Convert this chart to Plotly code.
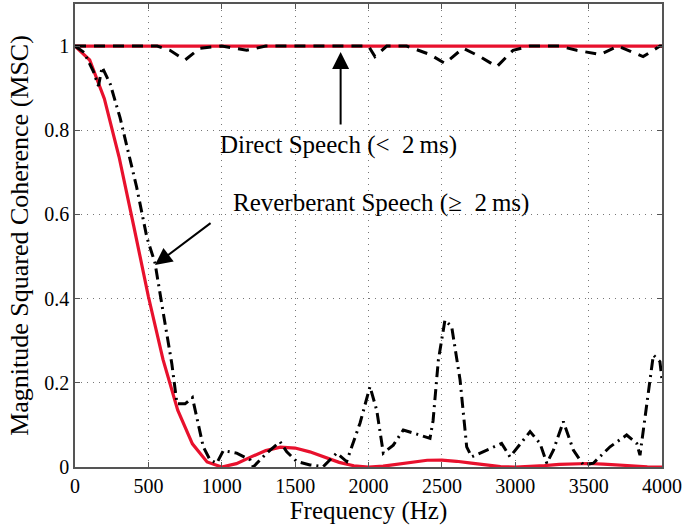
import plotly.graph_objects as go

# Theoretical curves (red)
freq_theory = [0, 100, 200, 300, 400, 500, 600, 700, 800, 900, 1000,
               1100, 1200, 1300, 1400, 1500, 1600, 1700, 1800, 1900, 2000,
               2100, 2200, 2300, 2400, 2500, 2600, 2700, 2800, 2900, 3000,
               3100, 3200, 3300, 3400, 3500, 3600, 3700, 3800, 3900, 4000]
msc_rev_theory = [1.0, 0.967, 0.875, 0.737, 0.573, 0.405, 0.255, 0.135, 0.055, 0.012, 0.0,
                  0.008, 0.024, 0.039, 0.047, 0.045, 0.036, 0.023, 0.011, 0.003, 0.0,
                  0.002, 0.007, 0.0125, 0.016, 0.0162, 0.0136, 0.009, 0.0045, 0.001, 0.0,
                  0.001, 0.0034, 0.006, 0.008, 0.0083, 0.007, 0.0048, 0.0024, 0.0006, 0.0]
msc_dir_theory = [1.0] * len(freq_theory)

# Measured direct speech (black dashed)
freq_dir = [0, 560, 647, 750, 850, 1000, 1170, 1300, 1500, 1800, 2000, 2044, 2124, 2260,
            2419, 2521, 2644, 2760, 2874, 2985, 3100, 3300, 3419, 3578, 3700, 3871, 3986, 4000]
msc_dir = [1.0, 1.0, 0.99, 0.967, 0.995, 1.0, 0.99, 1.0, 1.0, 1.0, 1.0, 0.975, 1.0, 1.0,
           0.98, 0.959, 0.995, 0.975, 0.951, 0.99, 1.0, 1.0, 0.99, 0.98, 1.0, 0.975, 1.0, 1.0]

# Measured reverberant speech (black dash-dot)
freq_rev = [0, 62, 125, 160, 185, 240, 307, 420, 490, 545, 602, 660, 695, 750, 800, 874,
            920, 966, 1011, 1102, 1193, 1215, 1306, 1397, 1443, 1511, 1601, 1692, 1783,
            1851, 1942, 2010, 2056, 2101, 2169, 2237, 2330, 2419, 2440, 2476, 2521, 2567,
            2624, 2669, 2703, 2782, 2907, 2964, 3021, 3101, 3169, 3215, 3260, 3328, 3396,
            3464, 3532, 3646, 3759, 3828, 3850, 3918, 3941, 3986, 4000]
msc_rev = [1.0, 0.985, 0.94, 0.905, 0.95, 0.91, 0.83, 0.665, 0.545, 0.485, 0.365, 0.245,
           0.15, 0.15, 0.165, 0.048, 0.017, 0.009, 0.039, 0.033, 0.017, 0.0, 0.033, 0.06,
           0.036, 0.013, 0.005, 0.001, 0.033, 0.013, 0.104, 0.191, 0.135, 0.033, 0.052,
           0.088, 0.078, 0.068, 0.11, 0.254, 0.349, 0.333, 0.207, 0.048, 0.024, 0.036,
           0.056, 0.024, 0.048, 0.084, 0.056, 0.009, 0.04, 0.108, 0.04, 0.005, 0.009,
           0.048, 0.076, 0.056, 0.028, 0.199, 0.266, 0.25, 0.207]

x_ticks = [0, 500, 1000, 1500, 2000, 2500, 3000, 3500, 4000]
y_ticks = [0, 0.2, 0.4, 0.6, 0.8, 1]
y_tick_labels = ["0", "0.2", "0.4", "0.6", "0.8", "1"]

FONT = "Liberation Serif"
RED = "#e8112d"

fig = go.Figure()
fig.add_trace(go.Scatter(x=freq_theory, y=msc_rev_theory, mode="lines",
                         line=dict(color=RED, width=3.2), showlegend=False))
fig.add_trace(go.Scatter(x=freq_theory, y=msc_dir_theory, mode="lines",
                         line=dict(color=RED, width=3.2), showlegend=False))
fig.add_trace(go.Scatter(x=freq_dir, y=msc_dir, mode="lines",
                         line=dict(color="black", width=3, dash="11px,8px"), showlegend=False))
fig.add_trace(go.Scatter(x=freq_rev, y=msc_rev, mode="lines",
                         line=dict(color="black", width=3, dash="11px,5px,2px,5px"), showlegend=False))

fig.add_annotation(x=1810, y=0.986, ax=1810, ay=0.81, xref="x", yref="y", axref="x", ayref="y",
                   text="", showarrow=True, arrowhead=2, arrowsize=1.7, arrowwidth=2, arrowcolor="black")
fig.add_annotation(x=545, y=0.48, ax=934, ay=0.582, xref="x", yref="y", axref="x", ayref="y",
                   text="", showarrow=True, arrowhead=2, arrowsize=1.7, arrowwidth=2, arrowcolor="black")
fig.add_annotation(x=1795, y=0.765, xref="x", yref="y", text="Direct Speech (<\u00a0\u00a02\u2009ms)",
                   showarrow=False, font=dict(family=FONT, size=25, color="black"))
fig.add_annotation(x=2085, y=0.627, xref="x", yref="y", text="Reverberant Speech (\u2265\u00a0\u00a02\u2009ms)",
                   showarrow=False, font=dict(family=FONT, size=25, color="black"))

axis_common = dict(showline=True, linecolor="#555555", linewidth=1.5, mirror="ticks",
                   showgrid=True, gridcolor="#777777", griddash="1px,5px", gridwidth=1,
                   ticks="inside", ticklen=5, tickcolor="#555555", zeroline=False,
                   tickfont=dict(family=FONT, size=20, color="black"))

fig.update_xaxes(range=[0, 4000], tickvals=x_ticks, **axis_common,
                 title=dict(text="Frequency (Hz)", font=dict(family=FONT, size=25, color="black"),
                            standoff=6))
fig.update_yaxes(range=[0, 1.1], tickvals=y_ticks, ticktext=y_tick_labels, **axis_common,
                 title=dict(text="Magnitude Squared Coherence (MSC)",
                            font=dict(family=FONT, size=26, color="black"), standoff=8))

fig.update_layout(width=682, height=532, margin=dict(l=75, r=20, t=4, b=65, autoexpand=False),
                  plot_bgcolor="white", paper_bgcolor="white")

fig.write_html("out.html", config={"displayModeBar": False})

# remove the default page margin so the figure sits at the window's top-left corner
with open("out.html", "r", encoding="utf-8") as f:
    html = f.read()
html = html.replace("<body>", '<body style="margin:0;padding:0;">', 1)
with open("out.html", "w", encoding="utf-8") as f:
    f.write(html)
